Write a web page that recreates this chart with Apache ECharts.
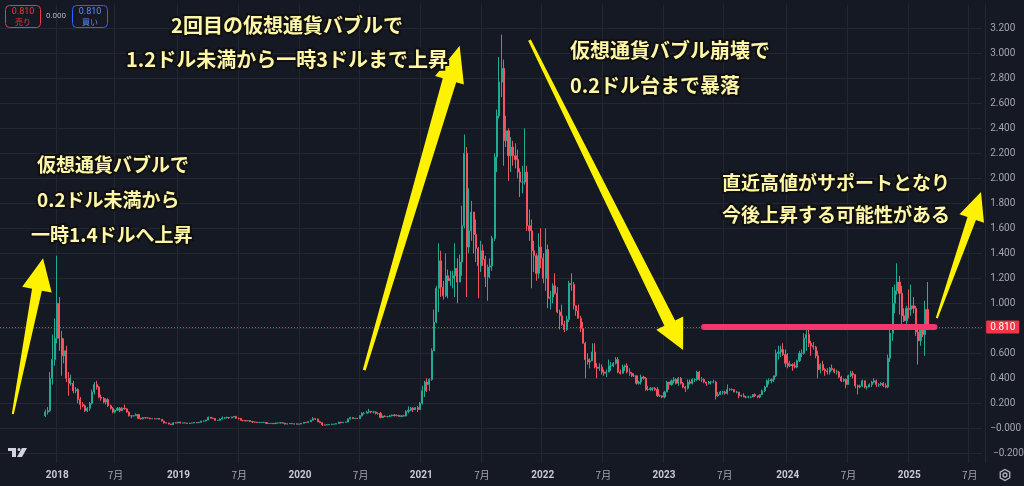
<!DOCTYPE html>
<html><head><meta charset="utf-8">
<script src="https://cdn.jsdelivr.net/npm/echarts@6/dist/echarts.min.js"></script>
<style>html,body{margin:0;padding:0;background:#151924;}#c{width:1024px;height:486px;}</style>
</head><body><div id="c"></div>
<script>
// ---- data: weekly ADA candles, weeks start on Monday ----
const firstWeek = '2017-11-27';
const firstOpen = 0.10;
const close2017 = [.13,.14,.40,.55,.72];
const high2017  = [.15,.17,.45,.75,.88];
const low2017   = [.09,.11,.13,.35,.50];
const close2018 = [1.00,.72,.58,.62,.40,.36,.36,.30,.31,.23,.19,.18,.14,.16,.20,.29,.35,.33,.25,.24,.21,.23,.18,.16,.13,.145,.16,.14,.16,.155,.13,.10,.10,.10,.11,.08,.077,.085,.083,.082,.077,.077,.076,.078,.073,.058,.044,.043,.034,.029,.044,.043,.05];
const high2018  = [1.38,1.05,.78,.72,.66,.45,.43,.38,.33,.32,.25,.21,.19,.17,.21,.31,.37,.38,.34,.27,.25,.24,.24,.19,.17,.15,.17,.17,.17,.19,.16,.135,.105,.105,.12,.115,.085,.09,.09,.087,.084,.08,.078,.08,.083,.074,.06,.047,.044,.035,.049,.049,.052];
const low2018   = [.68,.62,.42,.52,.37,.26,.34,.28,.28,.20,.15,.17,.13,.13,.14,.19,.27,.31,.24,.22,.20,.19,.17,.15,.12,.12,.14,.13,.14,.15,.125,.095,.08,.095,.10,.075,.07,.07,.08,.08,.072,.074,.074,.073,.072,.055,.037,.038,.031,.027,.028,.04,.04];
const close2019 = [.042,.043,.042,.039,.042,.043,.046,.044,.048,.058,.058,.066,.088,.081,.079,.064,.064,.074,.083,.084,.088,.083,.09,.094,.08,.079,.064,.062,.059,.062,.054,.05,.049,.046,.047,.047,.047,.038,.038,.039,.037,.043,.043,.045,.041,.034,.036,.039,.036,.036,.033,.034];
const high2019  = [.053,.046,.045,.043,.043,.044,.051,.047,.05,.06,.062,.068,.095,.09,.086,.08,.066,.08,.095,.088,.093,.09,.093,.098,.10,.085,.082,.067,.063,.064,.065,.055,.053,.05,.049,.05,.052,.048,.04,.041,.04,.045,.045,.047,.046,.042,.038,.04,.04,.037,.038,.035];
const low2019   = [.04,.041,.041,.037,.038,.041,.042,.042,.042,.046,.055,.057,.065,.077,.077,.062,.061,.062,.07,.076,.08,.076,.081,.088,.075,.07,.062,.055,.056,.057,.053,.043,.047,.043,.044,.045,.045,.034,.035,.036,.035,.035,.04,.041,.039,.031,.032,.035,.035,.031,.032,.032];
const close2020 = [.040,.048,.046,.053,.065,.076,.075,.053,.045,.027,.026,.028,.031,.033,.034,.037,.049,.045,.048,.05,.075,.086,.078,.080,.077,.10,.12,.12,.13,.135,.13,.13,.12,.12,.087,.098,.095,.095,.10,.107,.10,.104,.095,.10,.098,.135,.145,.16,.15,.165,.15,.20];
const high2020  = [.041,.05,.05,.056,.067,.09,.08,.077,.06,.048,.03,.031,.032,.036,.035,.038,.053,.052,.05,.053,.078,.092,.088,.083,.082,.105,.13,.13,.14,.155,.14,.14,.135,.128,.13,.10,.103,.098,.107,.11,.113,.11,.107,.105,.108,.145,.175,.17,.17,.17,.18,.21];
const low2020   = [.033,.039,.043,.045,.052,.064,.066,.05,.044,.019,.024,.026,.027,.03,.031,.033,.036,.041,.043,.047,.049,.07,.074,.077,.074,.076,.095,.11,.12,.12,.12,.12,.11,.108,.08,.083,.09,.087,.093,.095,.097,.097,.093,.088,.096,.096,.12,.14,.13,.145,.13,.15];
const close2021 = [.30,.37,.35,.39,.62,.85,1.12,1.34,1.13,1.06,1.22,1.18,1.20,1.22,1.28,1.17,1.33,1.62,2.20,1.45,1.58,1.73,1.55,1.44,1.30,1.42,1.35,1.21,1.29,1.30,1.52,2.17,2.50,2.77,2.88,2.30,2.38,2.18,2.25,2.18,2.15,2.05,1.97,1.97,2.05,1.62,1.58,1.42,1.38,1.24,1.45,1.36];
const high2021  = [.34,.38,.40,.40,.64,.95,1.14,1.48,1.42,1.18,1.40,1.27,1.26,1.26,1.48,1.36,1.39,1.78,2.35,2.25,1.92,1.82,1.73,1.67,1.45,1.50,1.47,1.38,1.31,1.36,1.54,2.20,2.55,2.97,3.15,2.95,2.50,2.40,2.33,2.30,2.28,2.23,2.08,2.10,2.40,2.10,1.75,1.67,1.50,1.40,1.56,1.60];
const low2021   = [.19,.25,.29,.30,.38,.62,.84,.93,1.05,1.03,1.05,1.04,1.14,1.12,1.05,1.00,1.17,1.22,1.60,1.05,1.40,1.50,1.40,1.33,1.04,1.25,1.30,1.13,1.02,1.20,1.26,1.50,2.05,2.48,2.65,2.10,2.25,1.98,2.05,2.10,2.08,2.00,1.85,1.88,1.95,1.58,1.50,1.12,1.25,1.18,1.20,1.28];
const close2022 = [1.20,1.43,1.04,1.05,1.14,1.08,.93,.90,.83,.79,.87,1.16,1.15,.98,.94,.88,.80,.68,.55,.53,.54,.61,.49,.48,.49,.45,.44,.45,.50,.50,.52,.55,.45,.44,.49,.50,.45,.44,.42,.42,.36,.37,.41,.40,.31,.31,.32,.32,.31,.26,.26,.25];
const high2022  = [1.40,1.60,1.47,1.10,1.16,1.24,1.13,.95,.99,.86,.90,1.18,1.24,1.17,.98,.99,.90,.85,.69,.60,.56,.68,.68,.52,.52,.51,.47,.47,.55,.53,.53,.57,.57,.47,.51,.51,.52,.48,.45,.44,.42,.38,.43,.42,.41,.34,.33,.33,.33,.33,.27,.26];
const low2022   = [1.16,1.10,.96,.95,1.00,1.07,.92,.79,.82,.77,.78,.85,1.10,.95,.90,.88,.77,.68,.40,.51,.48,.54,.48,.40,.46,.43,.42,.41,.45,.46,.49,.51,.44,.43,.44,.46,.44,.42,.41,.41,.35,.35,.35,.39,.30,.30,.30,.30,.30,.25,.25,.24];
const close2023 = [.29,.37,.35,.38,.39,.36,.40,.36,.33,.32,.37,.36,.39,.39,.45,.39,.39,.37,.36,.37,.37,.37,.26,.27,.29,.29,.28,.31,.31,.31,.29,.29,.26,.26,.25,.25,.25,.25,.27,.26,.25,.27,.30,.33,.38,.38,.39,.42,.60,.61,.63,.59];
const high2023  = [.30,.38,.37,.39,.41,.40,.41,.41,.37,.34,.39,.39,.40,.40,.46,.46,.41,.40,.37,.38,.38,.39,.38,.29,.30,.30,.30,.35,.32,.32,.31,.30,.29,.27,.28,.26,.26,.26,.27,.28,.26,.27,.31,.34,.39,.40,.40,.42,.63,.66,.66,.68];
const low2023   = [.24,.29,.31,.34,.36,.35,.34,.35,.32,.29,.31,.35,.35,.37,.38,.38,.37,.36,.34,.35,.35,.36,.23,.25,.27,.27,.27,.27,.30,.30,.29,.28,.24,.25,.25,.24,.24,.24,.25,.25,.24,.24,.27,.29,.33,.35,.36,.37,.41,.55,.57,.58];
const close2024 = [.52,.50,.51,.50,.49,.54,.60,.60,.72,.75,.68,.66,.65,.58,.47,.51,.47,.46,.45,.48,.47,.45,.45,.41,.38,.39,.35,.42,.44,.43,.34,.33,.34,.38,.33,.33,.35,.37,.38,.35,.35,.36,.34,.33,.56,.76,1.00,1.10,1.17,1.08,.90,.86,.96];
const high2024  = [.63,.60,.54,.52,.53,.55,.62,.63,.76,.80,.81,.70,.69,.66,.62,.52,.54,.48,.48,.49,.51,.48,.47,.46,.42,.40,.40,.43,.46,.46,.43,.35,.35,.39,.38,.34,.36,.38,.40,.39,.36,.37,.37,.36,.59,.80,1.13,1.15,1.32,1.22,1.14,.96,.98];
const low2024   = [.49,.48,.49,.46,.48,.48,.53,.57,.59,.62,.65,.58,.63,.56,.40,.44,.46,.42,.43,.43,.46,.44,.43,.40,.37,.37,.32,.35,.41,.40,.32,.27,.32,.33,.32,.31,.33,.33,.36,.33,.33,.34,.33,.32,.32,.53,.70,.92,1.07,.91,.80,.85,.82];
const close2025 = [.95,.98,.96,.77,.70,.79,.75,.95,.81];
const high2025  = [1.11,1.15,1.05,.98,.81,.82,.82,1.02,1.17];
const low2025   = [.88,.90,.92,.74,.51,.66,.73,.58,.80];

const currentPrice = 0.810;
const supportLevel = 0.81;
const supportFrom = '2023-05-01', supportTo = '2025-03-24';
const yearTickLabels = ['2018','2019','2020','2021','2022','2023','2024','2025'];
const julyLabel = '7月';
const lowestPriceTick = -0.2;

// ---- axis categories (weekly, Monday) ----
const DAY = 864e5;
const fmt = d => new Date(d).toISOString().slice(0,10);
const axisStart = Date.UTC(2017,6,17), axisWeeks = 422;
const cats = [];
for (let i=0;i<axisWeeks;i++) cats.push(fmt(axisStart + i*7*DAY));

const closes = [].concat(close2017,close2018,close2019,close2020,close2021,close2022,close2023,close2024,close2025);
const highs  = [].concat(high2017,high2018,high2019,high2020,high2021,high2022,high2023,high2024,high2025);
const lows   = [].concat(low2017,low2018,low2019,low2020,low2021,low2022,low2023,low2024,low2025);
const startIdx = cats.indexOf(firstWeek);
const candles = cats.map(()=> '-');
for (let i=0;i<closes.length;i++){
  const o = i===0 ? firstOpen : closes[i-1];
  candles[startIdx+i] = [o, closes[i], lows[i], highs[i]];
}

function monthLabel(s){
  const d = new Date(s+'T00:00:00Z'), e = new Date(d.getTime()+6*DAY);
  let m=null,y=null;
  if (d.getUTCDate()===1){m=d.getUTCMonth();y=d.getUTCFullYear();}
  else if (e.getUTCMonth()!==d.getUTCMonth()){m=e.getUTCMonth();y=e.getUTCFullYear();}
  if (m===0 && yearTickLabels.indexOf(String(y))>=0) return '{y|'+y+'}';
  if (m===6) return '{m|'+julyLabel+'}';
  return '';
}
const priceLabel = v => (Math.abs(v)<1e-9 || v<0 ? '\u2212' : '') + Math.abs(v).toFixed(3);

// price scale: 0 at y=428.3, 125 px per unit
const yMin = -0.4, yMax = 3.39, yStep = 0.2;
const zeroY = 428.3, pxPerUnit = 125, plotBottomY = 463, gridRight = 39;
const gridTop = zeroY - yMax*pxPerUnit, gridBottom = 486 - (zeroY - yMin*pxPerUnit);

const bg = '#151924', gridColor = '#232733', up = '#22ab94', down = '#f7525f', axisText = '#a3a6af';

const chart = echarts.init(document.getElementById('c'));
chart.setOption({
  backgroundColor: bg,
  animation: false,
  grid: [
    {left: -2, right: gridRight, top: gridTop, bottom: gridBottom},
    {left: -2, right: gridRight, top: gridTop, bottom: 486 - plotBottomY}
  ],
  xAxis: [
    { type:'category', gridIndex:0, data: cats, boundaryGap: true,
      axisLine:{show:false}, axisTick:{show:false}, axisLabel:{show:false}, splitLine:{show:false} },
    { type:'category', gridIndex:1, data: cats, boundaryGap: true,
      axisLine:{show:false}, axisTick:{show:false},
      axisLabel:{
        interval:(i,v)=>monthLabel(v)!=='', formatter:v=>monthLabel(v), margin:7,
        rich:{ y:{color:'#c8cad2',fontSize:10,fontWeight:'bold',fontFamily:'Roboto'},
               m:{color:axisText,fontSize:10,fontFamily:'Noto Sans CJK JP'} }
      },
      splitLine:{show:true, interval:(i,v)=>monthLabel(v)!=='', lineStyle:{color:gridColor,width:1}} }
  ],
  yAxis: [
    { type:'value', gridIndex:0, position:'right', min:yMin, max:yMax, interval:yStep,
      axisLine:{show:false}, axisTick:{show:false},
      axisLabel:{ margin:8, color:axisText, fontSize:10, fontFamily:'Roboto',
        formatter: v => (v > 3.25 || v < -0.1) ? '' : priceLabel(v) },
      splitLine:{ show:true, showMinLine:false, showMaxLine:false, lineStyle:{color:gridColor,width:1} } },
    { type:'value', gridIndex:1, show:false, splitLine:{show:false} }
  ],
  series: [{
    type:'candlestick', xAxisIndex:0, yAxisIndex:0, data:candles, barWidth:1.6,
    itemStyle:{color:up, color0:down, borderColor:up, borderColor0:down, borderWidth:1},
    markLine:{
      silent:true, symbol:['none','none'], animation:false,
      data:[
        { yAxis: currentPrice,
          lineStyle:{color:'#f23645', type:[1,2], width:1},
          label:{show:true, position:'end', formatter: currentPrice.toFixed(3), color:'#ffffff',
                 backgroundColor:'#f23645', padding:[2,4,1,4], fontSize:10, fontFamily:'Roboto', distance:4, borderRadius:1} },
        [ { coord:[supportFrom, supportLevel], lineStyle:{color:'#f5356e', width:6, type:'solid', cap:'round'}, label:{show:false} },
          { coord:[supportTo, supportLevel] } ]
      ]
    }
  }]
});

// ---- annotations: arrows in data space (tail, tip) ----
const arrows = [
  {tail:['2017-08-21',0.114], tip:['2017-11-20',1.36], head:32, half:15, w0:1, w1:5},
  {tail:['2020-07-13',0.466], tip:['2021-04-26',3.06], head:36, half:15, w0:1.5, w1:7},
  {tail:['2021-11-22',3.106], tip:['2023-02-27',0.626], head:30, half:15, w0:1.5, w1:6},
  {tail:['2025-03-31',0.882], tip:['2025-08-11',1.89], head:28, half:13, w0:1, w1:4.5}
];
const texts = [
  {t:'2回目の仮想通貨バブルで', x:287, y:25, a:'center', s:20},
  {t:'1.2ドル未満から一時3ドルまで上昇', x:287, y:59, a:'center', s:20},
  {t:'仮想通貨バブルで', x:37, y:165, a:'left', s:19},
  {t:'0.2ドル未満から', x:37, y:200, a:'left', s:19},
  {t:'一時1.4ドルへ上昇', x:31, y:235, a:'left', s:19},
  {t:'仮想通貨バブル崩壊で', x:570, y:50, a:'left', s:20},
  {t:'0.2ドル台まで暴落', x:570, y:85, a:'left', s:20},
  {t:'直近高値がサポートとなり', x:722, y:183, a:'left', s:19},
  {t:'今後上昇する可能性がある', x:722, y:215, a:'left', s:19}
];
const g = [];
arrows.forEach(a=>{
  const T = chart.convertToPixel({gridIndex:0}, a.tail), P = chart.convertToPixel({gridIndex:0}, a.tip);
  const dx=P[0]-T[0], dy=P[1]-T[1], L=Math.hypot(dx,dy), ux=dx/L, uy=dy/L, nx=-uy, ny=ux;
  const B=[P[0]-ux*a.head, P[1]-uy*a.head];
  const pts=[[T[0]+nx*a.w0,T[1]+ny*a.w0],[B[0]+nx*a.w1,B[1]+ny*a.w1],[B[0]+nx*a.half,B[1]+ny*a.half],P,
             [B[0]-nx*a.half,B[1]-ny*a.half],[B[0]-nx*a.w1,B[1]-ny*a.w1],[T[0]-nx*a.w0,T[1]-ny*a.w0]];
  g.push({type:'polygon', z:50, shape:{points:pts}, style:{fill:'#fff200'}});
});
texts.forEach(o=>{
  const f = 'bold '+o.s+'px "Noto Sans CJK JP"';
  g.push({type:'text', z:60, style:{text:o.t, x:o.x, y:o.y, align:o.a, verticalAlign:'middle', font:f, fill:'#111', stroke:'#111', lineWidth:4}});
  g.push({type:'text', z:61, style:{text:o.t, x:o.x, y:o.y, align:o.a, verticalAlign:'middle', font:f, fill:'#fff7a8'}});
});
// lowest price-scale tick label, placed through the y scale
const lowPt = chart.convertToPixel({gridIndex:0}, [firstWeek, lowestPriceTick]);
g.push({type:'text', z:20, style:{text:priceLabel(lowestPriceTick), x:chart.getWidth()-gridRight+8, y:lowPt[1], align:'left', verticalAlign:'middle', font:'10px Roboto', fill:axisText}});
// top-left trade widget
g.push({type:'rect', z:70, shape:{x:5.5,y:5.5,width:35,height:22,r:4}, style:{fill:bg, stroke:'#f23645', lineWidth:1}});
g.push({type:'text', z:71, style:{text:'0.810', x:23, y:11.5, align:'center', verticalAlign:'middle', font:'9px Roboto', fill:'#f23645'}});
g.push({type:'text', z:71, style:{text:'売り', x:23, y:21.5, align:'center', verticalAlign:'middle', font:'8px "Noto Sans CJK JP"', fill:'#f23645'}});
g.push({type:'text', z:71, style:{text:'0.000', x:56, y:15.5, align:'center', verticalAlign:'middle', font:'8px Roboto', fill:'#b2b5be'}});
g.push({type:'rect', z:70, shape:{x:72.5,y:5.5,width:35,height:22,r:4}, style:{fill:bg, stroke:'#2962ff', lineWidth:1}});
g.push({type:'text', z:71, style:{text:'0.810', x:90, y:11.5, align:'center', verticalAlign:'middle', font:'9px Roboto', fill:'#5b8cff'}});
g.push({type:'text', z:71, style:{text:'買い', x:90, y:21.5, align:'center', verticalAlign:'middle', font:'8px "Noto Sans CJK JP"', fill:'#5b8cff'}});
// TradingView logo
g.push({type:'rect', z:70, shape:{x:8,y:448,width:8,height:3}, style:{fill:'#d1d4dc'}});
g.push({type:'rect', z:70, shape:{x:12,y:448,width:4,height:9}, style:{fill:'#d1d4dc'}});
g.push({type:'circle', z:70, shape:{cx:19,cy:449.5,r:1.5}, style:{fill:'#d1d4dc'}});
g.push({type:'polygon', z:70, shape:{points:[[22,448],[27,448],[22,457],[17,457]]}, style:{fill:'#d1d4dc'}});
// settings gear
const hex=[]; for(let k=0;k<6;k++){const an=Math.PI/6+k*Math.PI/3; hex.push([1005+5.5*Math.cos(an),475+5.5*Math.sin(an)]);}
g.push({type:'polygon', z:70, shape:{points:hex}, style:{fill:'none', stroke:'#b2b5be', lineWidth:1.3}});
g.push({type:'circle', z:70, shape:{cx:1005,cy:475,r:2}, style:{fill:'none', stroke:'#b2b5be', lineWidth:1.3}});
chart.setOption({graphic:g});
</script></body></html>
